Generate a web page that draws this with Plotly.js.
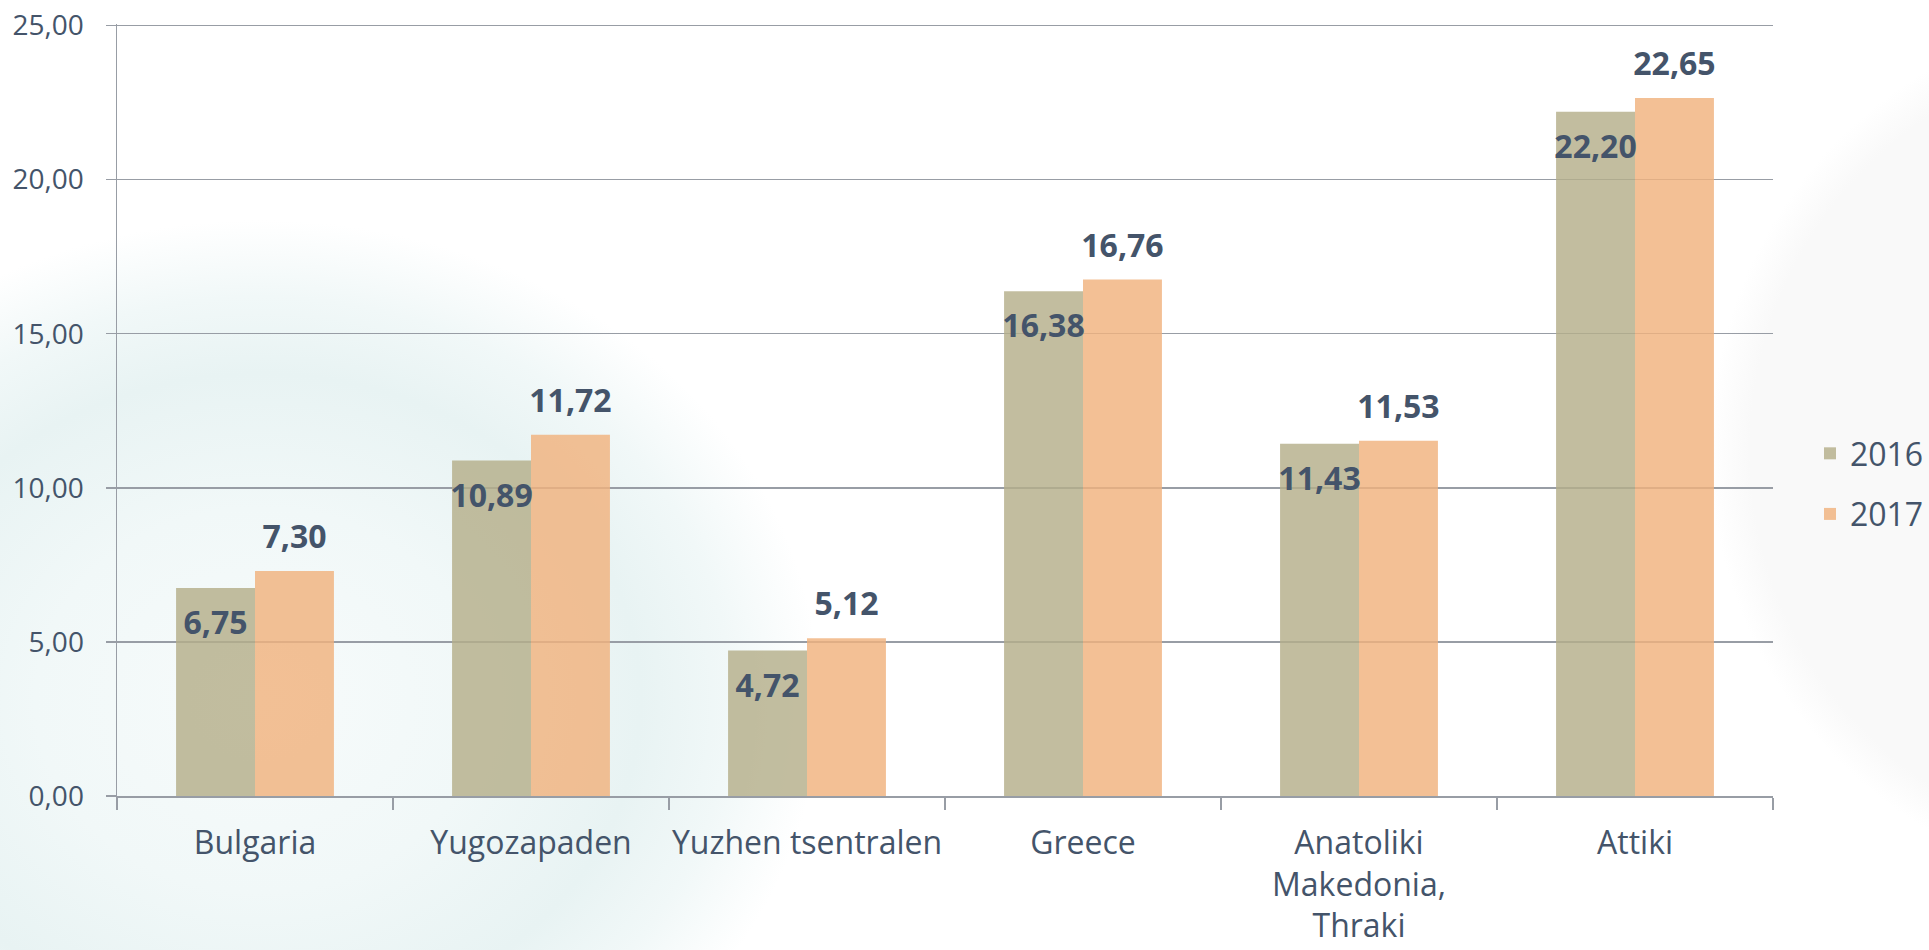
<!DOCTYPE html>
<html>
<head>
<meta charset="utf-8">
<script src="https://cdn.plot.ly/plotly-3.0.1.min.js"></script>
<style>
html, body { margin: 0; padding: 0; width: 1929px; height: 950px; overflow: hidden; }
body {
  background:
    radial-gradient(circle at 2150px 450px, rgba(249,249,249,1) 0px, rgba(249,249,249,1) 400px, rgba(255,255,255,0) 440px),
    radial-gradient(ellipse 560px 480px at 260px 700px, #f7fbfb 0%, #f1f8f8 40%, #e8f3f3 68%, #f1f8f8 84%, #ffffff 100%);
}
#chart { width: 1929px; height: 950px; }
</style>
</head>
<body>
<div id="chart"></div>
<script>
// ---- data ----
const categories = ['Bulgaria', 'Yugozapaden', 'Yuzhen tsentralen', 'Greece', 'Anatoliki<br>Makedonia,<br>Thraki', 'Attiki'];
const values2016 = [6.75, 10.89, 4.72, 16.38, 11.43, 22.20];
const values2017 = [7.30, 11.72, 5.12, 16.76, 11.53, 22.65];
const seriesNames = ['2016', '2017'];
const yTickValues = [0, 5, 10, 15, 20, 25];

// ---- styles ----
const textColor = '#44546A';
const gridColor = '#989DA5';
const color2016 = 'rgba(180,174,138,0.82)';
const color2017 = 'rgba(240,178,126,0.82)';
const fmt = v => v.toFixed(2).replace('.', ',');

const traces = [
  {
    type: 'bar', name: seriesNames[0], x: categories, y: values2016,
    offsetgroup: 'a', legendgroup: 'g1',
    marker: { color: color2016 }, hoverinfo: 'x+y'
  },
  {
    type: 'bar', name: seriesNames[1], x: categories, y: values2017,
    offsetgroup: 'b', legendgroup: 'g2',
    marker: { color: color2017 }, hoverinfo: 'x+y'
  },
  {
    type: 'scatter', mode: 'markers+text', x: categories, y: values2016,
    offsetgroup: 'a', showlegend: false, hoverinfo: 'skip', cliponaxis: false,
    marker: { size: 34, opacity: 0 },
    text: values2016.map(fmt), textposition: 'bottom center',
    textfont: { family: 'Open Sans', size: 32, color: textColor, weight: 'bold' }
  },
  {
    type: 'scatter', mode: 'markers+text', x: categories, y: values2017,
    offsetgroup: 'b', showlegend: false, hoverinfo: 'skip', cliponaxis: false,
    marker: { size: 22, opacity: 0 },
    text: values2017.map(fmt), textposition: 'top center',
    textfont: { family: 'Open Sans', size: 32, color: textColor, weight: 'bold' }
  }
];

const layout = {
  width: 1929, height: 950,
  margin: { l: 117, r: 156, t: 24, b: 154 },
  paper_bgcolor: 'rgba(0,0,0,0)',
  plot_bgcolor: 'rgba(0,0,0,0)',
  separators: ',.',
  barmode: 'group',
  scattermode: 'group',
  bargap: 0.428,
  bargroupgap: 0,
  font: { family: 'Open Sans', color: textColor },
  showlegend: true,
  legend: {
    xref: 'container', yref: 'container',
    x: 0.9383, xanchor: 'left', y: 0.4905, yanchor: 'middle',
    font: { family: 'Open Sans', size: 32, color: textColor },
    bgcolor: 'rgba(0,0,0,0)', traceorder: 'grouped', tracegroupgap: 16
  },
  xaxis: {
    type: 'category', tickangle: 0,
    showline: true, linecolor: gridColor, linewidth: 1.5,
    ticks: 'outside', tickson: 'boundaries', ticklen: 12, tickcolor: gridColor, tickwidth: 1.5,
    tickfont: { family: 'Open Sans', size: 32, color: textColor },
    ticklabelstandoff: 18,
    showgrid: false, zeroline: false
  },
  yaxis: {
    range: [0, 25.05], tickvals: yTickValues, tickformat: '.2f',
    showgrid: true, gridcolor: gridColor, gridwidth: 1.5,
    showline: true, linecolor: gridColor, linewidth: 1.5,
    ticks: 'outside', ticklen: 10, tickcolor: gridColor, tickwidth: 1.5,
    tickfont: { family: 'Open Sans', size: 28, color: textColor },
    ticklabelstandoff: 16,
    zeroline: false
  }
};

Plotly.newPlot('chart', traces, layout, { displayModeBar: false, staticPlot: true });
</script>
</body>
</html>
